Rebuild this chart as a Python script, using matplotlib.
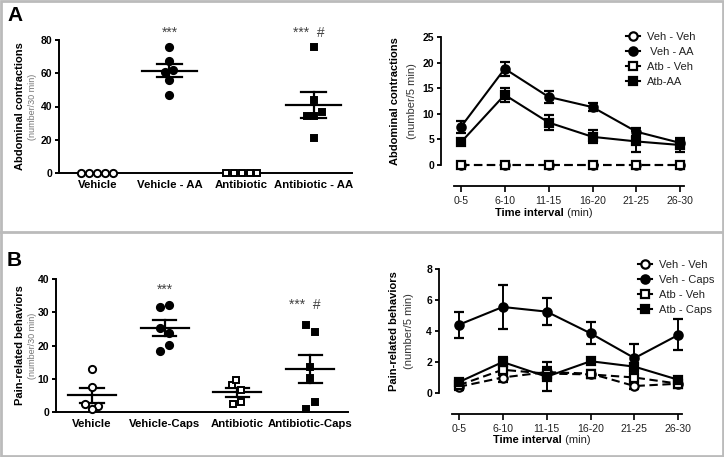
import numpy as np
import matplotlib
matplotlib.use("Agg")
import matplotlib.pyplot as plt
from matplotlib.lines import Line2D
from matplotlib.patches import Rectangle

plt.rcParams['font.family'] = ['Liberation Sans', 'DejaVu Sans']

# ---------------- data ----------------
# Panel A left (abdominal contractions /30 min)
a_cats = ["Vehicle", "Vehicle - AA", "Antibiotic", "Antibiotic - AA"]
a_vehicle = [0, 0, 0, 0, 0]
a_vehicle_aa = [75.5, 67.5, 61, 62, 56, 47]
a_antibiotic = [0, 0, 0, 0, 0]
a_antibiotic_aa = [75.5, 44, 36.5, 34.5, 34, 21]

# Panel A right (abdominal contractions /5 min)
time_labels = ["0-5", "6-10", "11-15", "16-20", "21-25", "26-30"]
a_vehveh = [0, 0, 0, 0, 0, 0]
a_vehaa = [7.4, 18.8, 13.3, 11.3, 6.5, 4.3]
a_vehaa_sem = [1.2, 1.4, 1.2, 0.8, 0.8, 0.8]
a_atbveh = [0, 0, 0, 0, 0, 0]
a_atbaa = [4.4, 13.7, 8.3, 5.5, 4.6, 3.9]
a_atbaa_sem = [0.4, 1.3, 1.5, 1.3, 2.1, 1.3]

# Panel B left (pain-related behaviours /30 min)
b_cats = ["Vehicle", "Vehicle-Caps", "Antibiotic", "Antibiotic-Caps"]
b_vehicle = [12.9, 7.4, 2.4, 1.8, 0.9]
b_vehicle_caps = [31.7, 32.2, 25.2, 23.7, 20.2, 18.4]
b_antibiotic = [8.1, 9.6, 6.6, 2.4, 3.0]
b_antibiotic_caps = [26.2, 24.0, 13.6, 10.1, 3.1, 0.9]

# Panel B right (pain-related behaviours /5 min)
b_vehveh = [0.4, 1.0, 1.35, 1.25, 0.45, 0.6]
b_vehveh_sem = [0.2, 0.3, 0.3, 0.25, 0.2, 0.2]
b_vehcaps = [4.4, 5.55, 5.25, 3.85, 2.25, 3.75]
b_vehcaps_sem = [0.85, 1.45, 0.85, 0.72, 0.9, 1.0]
b_atbveh = [0.5, 1.5, 1.25, 1.2, 1.0, 0.6]
b_atbveh_sem = [0.2, 0.35, 0.3, 0.25, 0.2, 0.25]
b_atbcaps = [0.7, 2.0, 1.05, 2.05, 1.7, 0.85]
b_atbcaps_sem = [0.2, 0.35, 0.95, 0.2, 0.2, 0.2]

# jitter offsets (positions only)
jit_a = [[-0.22, -0.11, 0, 0.11, 0.22], [0, 0, -0.06, 0.05, 0, 0],
         [-0.22, -0.11, 0, 0.11, 0.22], [0.0, 0.0, 0.12, -0.1, 0.0, 0.0]]
jit_b = [[0.0, 0.0, -0.09, 0.08, 0.0], [-0.06, 0.06, -0.06, 0.06, 0.06, -0.06],
         [-0.07, -0.02, 0.05, -0.06, 0.05], [-0.06, 0.06, 0.0, 0.0, 0.06, -0.06]]

W, H = 724, 457
fig = plt.figure(figsize=(W / 100, H / 100), dpi=100)


def ax_px(x0, y_top, x1, y_bot):
    return fig.add_axes([x0 / W, 1 - y_bot / H, (x1 - x0) / W, (y_bot - y_top) / H])


def scatter_panel(ax, groups, jits, markers, fills, cats, ymax, ystep, meanw, semw):
    for i, (vals, jit, m, f) in enumerate(zip(groups, jits, markers, fills)):
        xs = [i + j for j in jit]
        ax.plot(xs, vals, ls='none', marker=m, ms=5.2 if m == 'o' else 5,
                mfc=('black' if f else 'white'), mec='black', mew=1.4, clip_on=False, zorder=4)
        v = np.array(vals, dtype=float)
        mean = v.mean()
        sem = v.std(ddof=1) / np.sqrt(len(v))
        if sem > 0:
            ax.plot([i - meanw, i + meanw], [mean, mean], color='black', lw=1.6, zorder=3)
            for yy in (mean - sem, mean + sem):
                ax.plot([i - semw, i + semw], [yy, yy], color='black', lw=1.6, zorder=3)
            ax.plot([i, i], [mean - sem, mean + sem], color='black', lw=1.6, zorder=3)
    ax.set_ylim(0, ymax)
    ax.set_yticks(np.arange(0, ymax + 1, ystep))
    ax.set_xticks(range(4))
    ax.set_xticklabels(cats, fontsize=8.2, fontweight='bold')
    for s in ('top', 'right'):
        ax.spines[s].set_visible(False)
    for s in ('left', 'bottom'):
        ax.spines[s].set_linewidth(1.4)
    ax.tick_params(axis='x', length=0, pad=5)
    ax.tick_params(axis='y', length=3, width=1.4, labelsize=7.5, pad=2)
    for t in ax.get_yticklabels():
        t.set_fontweight('bold')


def line_panel(ax, series, ymax, ystep, leg_labels, leg_xy):
    ax.spines['bottom'].set_position(('outward', 15))
    x = np.arange(len(time_labels))
    handles = []
    for vals, sem, m, f, ls in series:
        ax.errorbar(x, vals, yerr=sem, color='black', lw=1.5, ls=ls, marker=m,
                    ms=6, mfc=('black' if f else 'white'), mec='black', mew=1.6,
                    capsize=3.5, capthick=1.4, elinewidth=1.4, clip_on=False, zorder=3,
                    dashes=(4, 2.2) if ls == '--' else (None, None))
        handles.append(Line2D([0], [0], color='black', lw=1.5, marker=m, ms=6,
                              mfc=('black' if f else 'white'), mec='black', mew=1.6))
    ax.set_xlim(-0.45, 5.15)
    ax.set_ylim(0, ymax)
    ax.set_yticks(np.arange(0, ymax + 0.01, ystep))
    ax.set_xticks(x)
    ax.set_xticklabels(time_labels)
    for s in ('top', 'right'):
        ax.spines[s].set_visible(False)
    ax.spines['bottom'].set_bounds(-0.16, 5.09)
    for s in ('left', 'bottom'):
        ax.spines[s].set_linewidth(1.3)
    ax.tick_params(axis='x', length=4.5, width=1.2, pad=3, labelsize=7.6, labelcolor='#222222')
    ax.tick_params(axis='y', length=3, width=1.3, labelsize=7.5, pad=2)
    for t in ax.get_yticklabels():
        t.set_fontweight('bold')
    leg = ax.legend(handles, leg_labels, loc='upper left', bbox_to_anchor=leg_xy,
                    bbox_transform=fig.transFigure, frameon=False, fontsize=8,
                    handlelength=1.3, handletextpad=0.6, labelspacing=0.45, borderpad=0)
    for t in leg.get_texts():
        t.set_color('#222222')
    ax.text(0.5, -0.335, "Time interval", transform=ax.transAxes, ha='right', va='top',
            fontsize=8, fontweight='bold')
    ax.text(0.5, -0.335, " (min)", transform=ax.transAxes, ha='left', va='top', fontsize=8,
            color='#222222')


# ---- Panel A left ----
axA1 = ax_px(59, 40, 352, 173)
scatter_panel(axA1, [a_vehicle, a_vehicle_aa, a_antibiotic, a_antibiotic_aa], jit_a,
              ['o', 'o', 's', 's'], [False, True, False, True], a_cats, 80, 20, 0.38, 0.17)
axA1.set_xlim(-0.53, 3.53)
axA1.text(-0.133, 0.5, "Abdominal contractions", transform=axA1.transAxes, rotation=90,
          ha='center', va='center', fontsize=8, fontweight='bold')
axA1.text(-0.092, 0.5, "(number/30 min)", transform=axA1.transAxes, rotation=90,
          ha='center', va='center', fontsize=6.5, color='#777777')
axA1.text(1, 84.5, "***", ha='center', va='center', fontsize=10, color='#444444')
axA1.text(2.93, 84.5, "***  #", ha='center', va='center', fontsize=10, color='#444444')

# ---- Panel A right ----
axA2 = ax_px(441, 37, 687, 165)
line_panel(axA2, [(a_vehveh, None, 'o', False, '--'),
                  (a_vehaa, a_vehaa_sem, 'o', True, '-'),
                  (a_atbveh, None, 's', False, '--'),
                  (a_atbaa, a_atbaa_sem, 's', True, '-')],
           25, 5, ["Veh - Veh", " Veh - AA", "Atb - Veh", "Atb-AA"], (620 / W, 1 - 26 / H))
axA2.text(-0.187, 0.5, "Abdominal contractions", transform=axA2.transAxes, rotation=90,
          ha='center', va='center', fontsize=8, fontweight='bold')
axA2.text(-0.118, 0.5, "(number/5 min)", transform=axA2.transAxes, rotation=90,
          ha='center', va='center', fontsize=8, color='#333333')

# ---- Panel B left ----
axB1 = ax_px(56, 279, 348, 412)
scatter_panel(axB1, [b_vehicle, b_vehicle_caps, b_antibiotic, b_antibiotic_caps], jit_b,
              ['o', 'o', 's', 's'], [False, True, False, True], b_cats, 40, 10, 0.33, 0.16)
axB1.set_xlim(-0.495, 3.52)
axB1.text(-0.123, 0.5, "Pain-related behaviors", transform=axB1.transAxes, rotation=90,
          ha='center', va='center', fontsize=8, fontweight='bold')
axB1.text(-0.082, 0.5, "(number/30 min)", transform=axB1.transAxes, rotation=90,
          ha='center', va='center', fontsize=6.5, color='#777777')
axB1.text(1, 36.8, "***", ha='center', va='center', fontsize=10, color='#444444')
axB1.text(2.93, 32.3, "***  #", ha='center', va='center', fontsize=10, color='#444444')

# ---- Panel B right ----
axB2 = ax_px(439, 269, 685, 393)
line_panel(axB2, [(b_vehveh, b_vehveh_sem, 'o', False, '--'),
                  (b_vehcaps, b_vehcaps_sem, 'o', True, '-'),
                  (b_atbveh, b_atbveh_sem, 's', False, '--'),
                  (b_atbcaps, b_atbcaps_sem, 's', True, '-')],
           8, 2, ["Veh - Veh", "Veh - Caps", "Atb - Veh", "Atb - Caps"], (632 / W, 1 - 254 / H))
axB2.text(-0.183, 0.5, "Pain-related behaviors", transform=axB2.transAxes, rotation=90,
          ha='center', va='center', fontsize=8, fontweight='bold')
axB2.text(-0.122, 0.5, "(number/5 min)", transform=axB2.transAxes, rotation=90,
          ha='center', va='center', fontsize=8, color='#333333')

# panel letters
fig.text(7 / W, 1 - 6 / H, "A", fontsize=15, fontweight='bold', ha='left', va='top')
fig.text(7 / W, 1 - 251 / H, "B", fontsize=15, fontweight='bold', ha='left', va='top')

# frame and divider
fig.add_artist(Rectangle((0.001, 0.002), 0.997, 0.995, transform=fig.transFigure,
                         fill=False, ec='#bbbbbb', lw=2))
fig.add_artist(Line2D([0, 1], [1 - 232 / H, 1 - 232 / H], transform=fig.transFigure,
                      color='#bbbbbb', lw=2))

fig.savefig("out.png", dpi=100)
